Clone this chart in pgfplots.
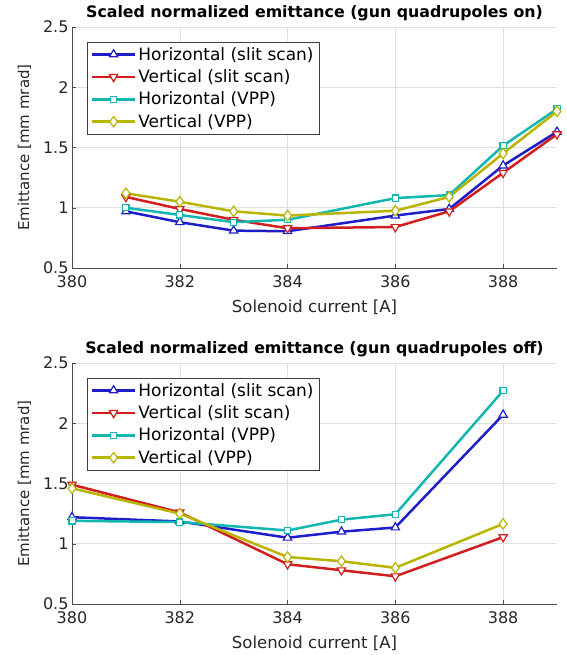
\documentclass[border=0pt]{standalone}
\usepackage{fontspec}
\setmainfont{DejaVu Sans}
\usepackage{pgfplots}
\pgfplotsset{compat=1.18}

\definecolor{cblue}{RGB}{30,30,200}
\definecolor{cred}{RGB}{210,30,30}
\definecolor{ccyan}{RGB}{20,182,178}
\definecolor{colive}{RGB}{185,180,0}

\pgfplotsset{
  emit/.style={
    scale only axis, width=485pt, height=241pt,
    xmin=380, xmax=389, ymin=0.5, ymax=2.5,
    xtick={380,382,...,388}, ytick={0.5,1,1.5,2,2.5},
    axis x line*=bottom, axis y line*=left,
    axis line style={black!70, line width=0.6pt},
    grid=major, grid style={black!12, line width=0.5pt},
    tick align=inside, major tick length=4pt,
    tick style={black!70},
    /pgf/number format/assume math mode=true,
    ticklabel style={font=\fontsize{16}{18}\selectfont, text=black!85},
    xticklabel style={yshift=-4pt},
    ylabel={Emittance [mm mrad]},
    xlabel={Solenoid current [A]},
    every axis y label/.style={at={(axis description cs:-0.098,0.5)}, rotate=90, anchor=center, font=\fontsize{15}{17}\selectfont, text=black!85},
    every axis x label/.style={at={(axis description cs:0.5,0)}, anchor=center, yshift=-39pt, font=\fontsize{16.5}{18}\selectfont, text=black!85},
    title style={font=\bfseries\fontsize{15.8}{18}\selectfont, yshift=-3pt},
    legend style={at={(axis description cs:0.031,0.938)}, anchor=north west,
      draw=black!75, line width=0.6pt, font=\fontsize{17}{19}\selectfont,
      row sep=4pt, inner xsep=3.5pt, inner ysep=3pt},
    legend cell align=left,
    legend image code/.code={\draw[mark repeat=2, mark phase=2] plot coordinates {(0pt,0pt) (21.5pt,0pt) (43pt,0pt)};},
    every axis plot/.append style={line width=2.5pt},
  },
  hs/.style={cblue, mark=triangle*, mark size=4.8pt, mark options={fill=white, line width=1.2pt, solid}},
  vs/.style={cred, mark=triangle*, mark size=4.8pt, mark options={fill=white, rotate=180, line width=1.2pt, solid}},
  hv/.style={ccyan, mark=square*, mark size=3.1pt, mark options={fill=white, line width=1.2pt, solid}},
  vv/.style={colive, mark=diamond*, mark size=5.2pt, mark options={fill=white, line width=1.2pt, solid}},
}

\begin{document}
\begin{tikzpicture}
% top: gun quadrupoles on
\begin{axis}[emit, at={(0pt,336pt)}, title={Scaled normalized emittance (gun quadrupoles on)}]
\addplot[hs] coordinates {(381,0.97) (382,0.88) (383,0.81) (384,0.805) (386,0.935) (387,0.99) (388,1.35) (389,1.63)};
\addlegendentry{Horizontal (slit scan)}
\addplot[vs] coordinates {(381,1.09) (382,0.99) (383,0.90) (384,0.83) (386,0.84) (387,0.97) (388,1.29) (389,1.61)};
\addlegendentry{Vertical (slit scan)}
\addplot[hv] coordinates {(381,1.00) (382,0.94) (383,0.88) (384,0.90) (386,1.08) (387,1.105) (388,1.515) (389,1.82)};
\addlegendentry{Horizontal (VPP)}
\addplot[vv] coordinates {(381,1.12) (382,1.05) (383,0.97) (384,0.935) (386,0.975) (387,1.09) (388,1.45) (389,1.80)};
\addlegendentry{Vertical (VPP)}
\end{axis}
% bottom: gun quadrupoles off
\begin{axis}[emit, at={(0pt,0pt)}, title={Scaled normalized emittance (gun quadrupoles off)}]
\addplot[hs] coordinates {(380,1.22) (382,1.185) (384,1.05) (385,1.10) (386,1.135) (388,2.07)};
\addlegendentry{Horizontal (slit scan)}
\addplot[vs] coordinates {(380,1.49) (382,1.26) (384,0.83) (385,0.78) (386,0.73) (388,1.055)};
\addlegendentry{Vertical (slit scan)}
\addplot[hv] coordinates {(380,1.19) (382,1.18) (384,1.11) (385,1.20) (386,1.245) (388,2.27)};
\addlegendentry{Horizontal (VPP)}
\addplot[vv] coordinates {(380,1.46) (382,1.25) (384,0.89) (385,0.855) (386,0.80) (388,1.165)};
\addlegendentry{Vertical (VPP)}
\end{axis}
\pgfresetboundingbox
\path[use as bounding box] (-72pt,-51pt) rectangle (494pt,604pt);
\end{tikzpicture}
\end{document}
